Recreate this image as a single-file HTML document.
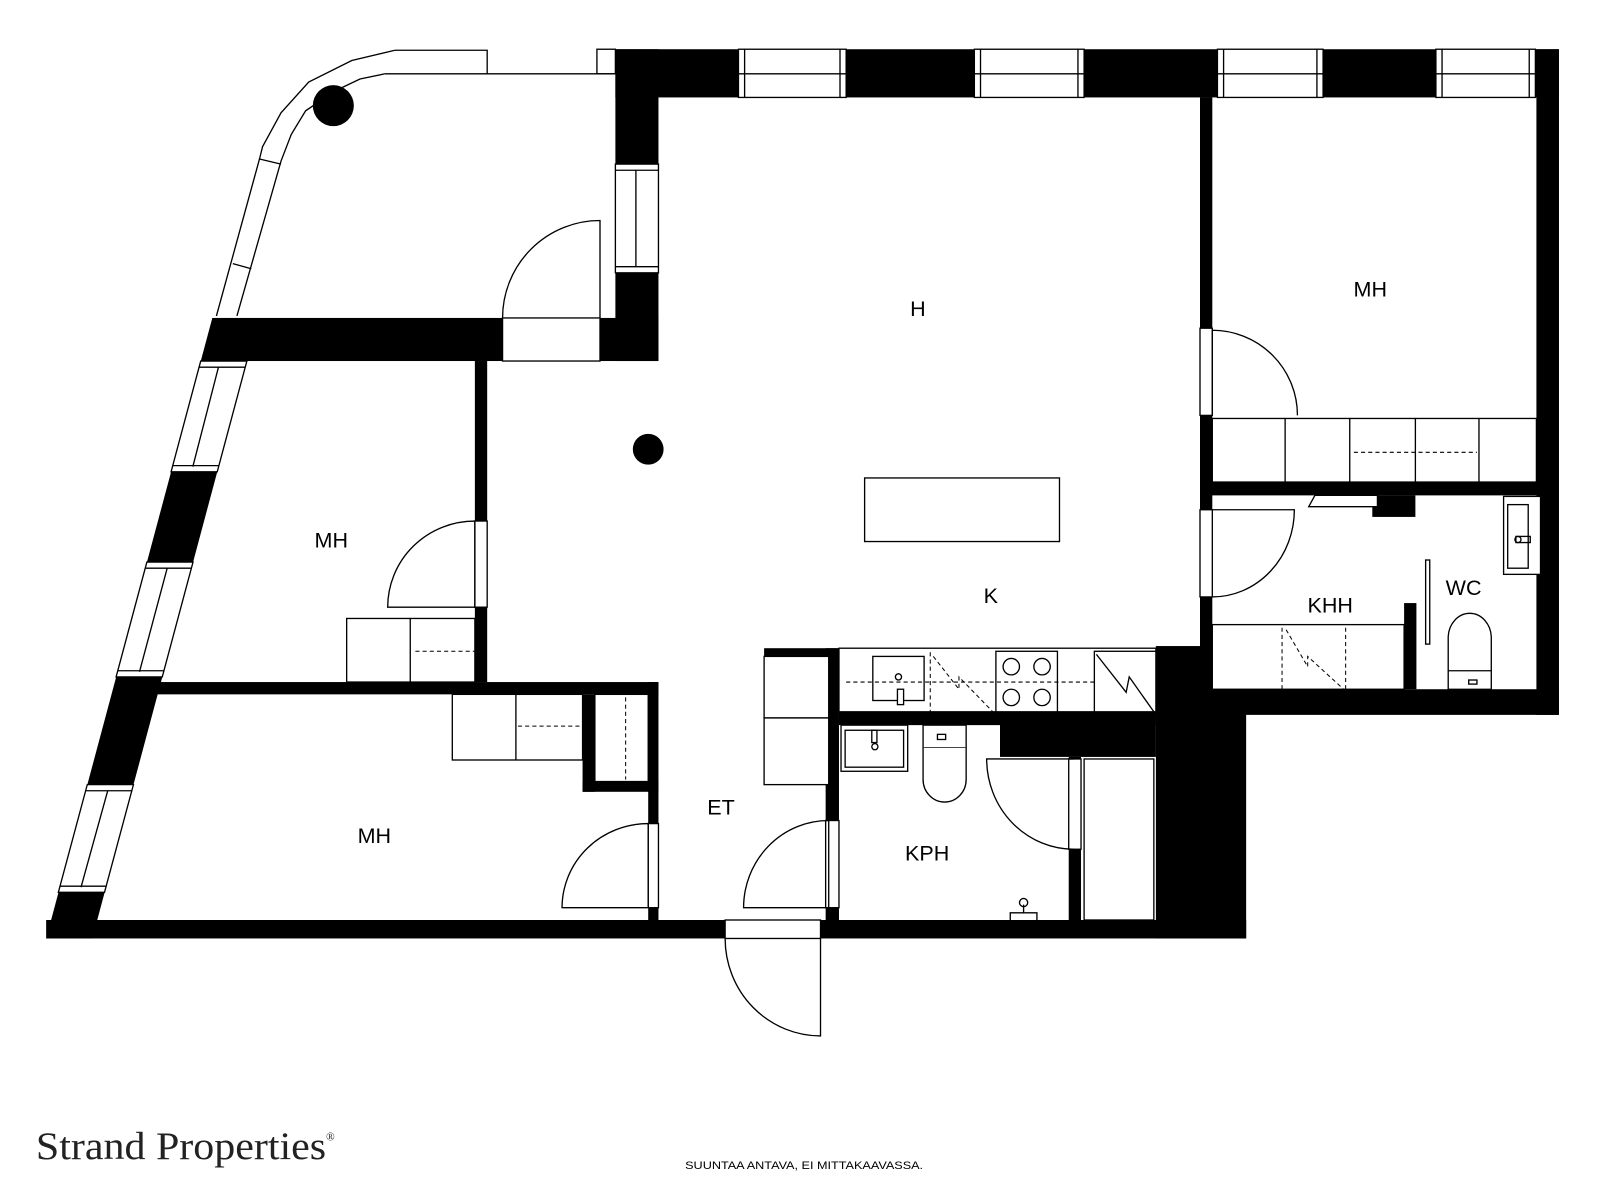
<!DOCTYPE html>
<html><head><meta charset="utf-8"><style>
html,body{margin:0;padding:0;background:#fff;}
svg{display:block;}
</style></head><body>
<svg width="1600" height="1200" viewBox="0 0 1560 1170" xmlns="http://www.w3.org/2000/svg" font-family="Liberation Sans, sans-serif">
<g fill="none" stroke="#000" stroke-width="1.3">
<path d="M385,49 L343,59 L301,80 L274,110 L256,143 L253,155 L211,308"/>
<path d="M375,72 L351,77 L328,88 L298,108 L284,131 L274,157 L231,308"/>
<path d="M385,49 H475 V72 M375,72 H600"/>
<rect x="582" y="48" width="18" height="24"/>
<line x1="253" y1="155" x2="274" y2="160"/>
<line x1="227" y1="257" x2="245" y2="262"/>
</g>
<g fill="#000">
<rect x="600" y="48" width="920" height="47"/>
<rect x="1498" y="48" width="22" height="649"/>
<rect x="600" y="48" width="42" height="304"/>
<rect x="207" y="310" width="283" height="42"/>
<rect x="585" y="310" width="57" height="42"/>
<polygon points="207,310 252,310 90,915 45,915"/>
<rect x="45" y="897" width="662" height="18"/>
<rect x="800" y="897" width="415" height="18"/>
<rect x="463" y="352" width="12" height="313"/>
<rect x="150" y="665" width="492" height="12"/>
<rect x="632" y="665" width="10" height="232"/>
<rect x="568" y="677" width="12" height="95"/>
<rect x="568" y="762" width="74" height="10"/>
<rect x="1170" y="95" width="12" height="537"/>
<rect x="1170" y="470" width="330" height="13"/>
<rect x="1338" y="483" width="42" height="21"/>
<rect x="1369" y="588" width="12" height="84"/>
<rect x="1127" y="630" width="68" height="67"/>
<rect x="1127" y="672" width="393" height="25"/>
<rect x="1127" y="630" width="88" height="285"/>
<rect x="745" y="632" width="73" height="8"/>
<rect x="805" y="632" width="13" height="265"/>
<rect x="818" y="694" width="309" height="13"/>
<rect x="975" y="694" width="152" height="44"/>
<rect x="1042" y="738" width="12" height="160"/>
<circle cx="325" cy="103" r="20"/>
<circle cx="632" cy="438" r="15"/>
</g>
<g fill="#fff" stroke="#000" stroke-width="1.3">
<rect x="720" y="48" width="105" height="47"/><line x1="720" y1="72" x2="825" y2="72"/><line x1="726" y1="48" x2="726" y2="95"/><line x1="819" y1="48" x2="819" y2="95"/>
<rect x="950" y="48" width="107" height="47"/><line x1="950" y1="72" x2="1057" y2="72"/><line x1="956" y1="48" x2="956" y2="95"/><line x1="1051" y1="48" x2="1051" y2="95"/>
<rect x="1187" y="48" width="103" height="47"/><line x1="1187" y1="72" x2="1290" y2="72"/><line x1="1193" y1="48" x2="1193" y2="95"/><line x1="1284" y1="48" x2="1284" y2="95"/>
<rect x="1400" y="48" width="97" height="47"/><line x1="1400" y1="72" x2="1497" y2="72"/><line x1="1406" y1="48" x2="1406" y2="95"/><line x1="1491" y1="48" x2="1491" y2="95"/>
<rect x="600" y="160" width="42" height="106"/><line x1="600" y1="166" x2="642" y2="166"/><line x1="600" y1="260" x2="642" y2="260"/><line x1="620" y1="166" x2="620" y2="260"/>
<polygon points="195.7,352 240.7,352 211.8,460 166.8,460"/><line x1="213" y1="358" x2="188" y2="455"/><line x1="194" y1="358" x2="239" y2="358"/><line x1="168" y1="454" x2="213" y2="454"/>
<polygon points="143.2,548 188.2,548 158.2,660 113.2,660"/><line x1="163" y1="554" x2="136" y2="655"/><line x1="142" y1="554" x2="187" y2="554"/><line x1="115" y1="654" x2="160" y2="654"/>
<polygon points="85.1,765 130.1,765 101.9,870 56.9,870"/><line x1="105" y1="771" x2="79" y2="865"/><line x1="84" y1="771" x2="129" y2="771"/><line x1="58" y1="864" x2="103" y2="864"/>
<rect x="490" y="310" width="95" height="42"/>
<rect x="463" y="508" width="12" height="84"/>
<rect x="632" y="803" width="10" height="82"/>
<rect x="805" y="800" width="13" height="85"/>
<rect x="707" y="897" width="93" height="18"/>
<rect x="1170" y="320" width="12" height="85"/>
<rect x="1170" y="497" width="12" height="85"/>
<rect x="1042" y="740" width="12" height="88"/>
<rect x="338" y="603" width="125" height="62"/><line x1="400" y1="603" x2="400" y2="665"/>
<rect x="441" y="677" width="127" height="64"/><line x1="503" y1="677" x2="503" y2="741"/>
<rect x="580" y="677" width="52" height="85"/>
<rect x="1182" y="408" width="316" height="62"/>
<line x1="1253" y1="408" x2="1253" y2="470"/><line x1="1316" y1="408" x2="1316" y2="470"/><line x1="1380" y1="408" x2="1380" y2="470"/><line x1="1442" y1="408" x2="1442" y2="470"/>
<rect x="745" y="640" width="63" height="60"/><rect x="745" y="700" width="63" height="65"/>
<rect x="843" y="466" width="190" height="62"/>
<rect x="818" y="632" width="309" height="62"/>
<rect x="851" y="640" width="50" height="43"/>
<rect x="875" y="672" width="6" height="15"/>
<rect x="971" y="635" width="60" height="59"/>
<rect x="1067" y="635" width="60" height="59"/>
<rect x="820" y="707" width="65" height="45"/><rect x="824" y="712" width="57" height="36"/>
<rect x="900" y="707" width="42" height="22"/>
<path d="M900,729 V760 A21,22 0 0 0 942,760 V729"/>
<rect x="1057" y="740" width="68" height="157"/>
<rect x="1182" y="609" width="187" height="63"/>
<rect x="1466" y="484" width="36" height="76"/><rect x="1470" y="492" width="20" height="62"/>
<path d="M1412,672 V622 A21,24 0 0 1 1454,622 V672 Z"/><line x1="1412" y1="654" x2="1454" y2="654"/>
<rect x="1390" y="546" width="4" height="82"/>
<path d="M1282,483 H1343 V494 H1276 Z"/>
</g>
<g fill="none" stroke="#000" stroke-width="1" stroke-dasharray="4,3">
<line x1="405" y1="635" x2="463" y2="635"/>
<line x1="505" y1="708" x2="565" y2="708"/>
<line x1="610" y1="680" x2="610" y2="760"/>
<line x1="1320" y1="441" x2="1440" y2="441"/>
<line x1="825" y1="665" x2="1067" y2="665"/>
<line x1="907" y1="636" x2="907" y2="694"/>
<path d="M910,640 L935,672 L935,660 L968,694"/>
<line x1="1250" y1="612" x2="1250" y2="672"/>
<line x1="1312" y1="612" x2="1312" y2="672"/>
<path d="M1254,614 L1275,650 L1275,640 L1310,672"/>
</g>
<g fill="none" stroke="#000" stroke-width="1.3">
<path d="M1069,638 L1098,675 L1101,660 L1125,694"/>
<circle cx="986" cy="650" r="8"/><circle cx="1016" cy="650" r="8"/><circle cx="986" cy="680" r="8"/><circle cx="1016" cy="680" r="8"/>
<circle cx="876" cy="660" r="3"/>
<circle cx="853" cy="728" r="3"/><rect x="850" y="712" width="5" height="12"/>
<rect x="914" y="716" width="8" height="5"/>
<rect x="1432" y="663" width="8" height="4"/>
<rect x="1478" y="523" width="14" height="6"/><circle cx="1480" cy="526" r="3"/>
<path d="M985,897 V890 H1011 V897 M998,890 V882"/><circle cx="998" cy="880" r="4"/>
<path d="M585,310 V215 A95,95 0 0 0 490,310"/>
<path d="M463,592 V508 A85,84 0 0 0 378,592 H463"/>
<path d="M632,885 V803 A84,82 0 0 0 548,885 H632"/>
<path d="M808,885 V800 A83,85 0 0 0 725,885 H808"/>
<path d="M800,915 V1010 A93,95 0 0 1 707,915"/>
<path d="M1182,405 V322 A83,83 0 0 1 1265,405"/>
<path d="M1182,497 H1262 A80,85 0 0 1 1182,582"/>
<path d="M1047,740 H962 A85,88 0 0 0 1047,828"/>
</g>
<g font-size="21" fill="#000">
<text x="895" y="308" text-anchor="middle">H</text>
<text x="1336" y="289" text-anchor="middle">MH</text>
<text x="323" y="534" text-anchor="middle">MH</text>
<text x="365" y="822" text-anchor="middle">MH</text>
<text x="966" y="588" text-anchor="middle">K</text>
<text x="703" y="794" text-anchor="middle">ET</text>
<text x="904" y="839" text-anchor="middle">KPH</text>
<text x="1297" y="597" text-anchor="middle">KHH</text>
<text x="1427" y="580" text-anchor="middle">WC</text>
</g>
<text x="35" y="1130" style="font-family:'Liberation Serif',serif" font-size="38" fill="#222" textLength="283" lengthAdjust="spacingAndGlyphs">Strand Properties</text>
<text x="318" y="1112" style="font-family:'Liberation Serif',serif" font-size="11" fill="#222">®</text>
<text x="668" y="1140" font-size="11" fill="#000" textLength="232" lengthAdjust="spacingAndGlyphs">SUUNTAA ANTAVA, EI MITTAKAAVASSA.</text>
</svg>
</body></html>
